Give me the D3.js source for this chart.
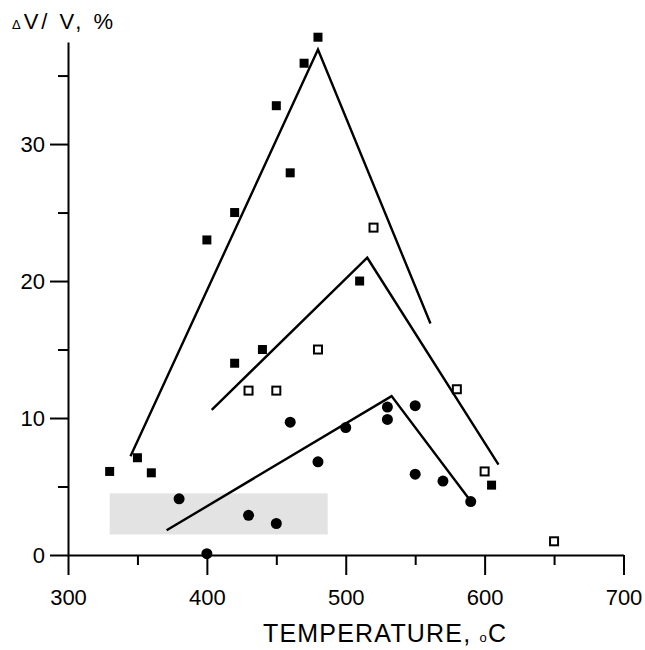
<!DOCTYPE html>
<html lang="en">
<head>
<meta charset="UTF-8" />
<title>Volume change vs temperature</title>
<style>
  body { margin: 0; background: #fff; }
  svg { display: block; font-family: "Liberation Sans", Arial, sans-serif; }
  .axis path, .axis line { stroke: #000; stroke-width: 2; }
  .axis text { font-size: 22px; fill: #000; }
</style>
</head>
<body>
<svg id="chart" width="645" height="650"></svg>
<script src="https://cdn.jsdelivr.net/npm/d3@7"></script>
<script>
// filled squares
const sqT = [330, 350, 360, 400, 420, 420, 440, 450, 460, 470, 480, 510, 605];
const sqV = [6.1, 7.1, 6.0, 23.0, 25.0, 14.0, 15.0, 32.8, 27.9, 35.9, 37.8, 20.0, 5.1];
// open squares
const osT = [430, 450, 480, 520, 580, 600, 650];
const osV = [12.0, 12.0, 15.0, 23.9, 12.1, 6.1, 1.0];
// filled circles
const ciT = [380, 400, 430, 450, 460, 480, 500, 530, 530, 550, 550, 570, 590];
const ciV = [4.1, 0.1, 2.9, 2.3, 9.7, 6.8, 9.3, 10.8, 9.9, 10.9, 5.9, 5.4, 3.9];
// trend lines (start, peak, end)
const upperT = [345, 480, 561], upperV = [7.2, 36.9, 16.9];
const middleT = [403.5, 515.5, 610], middleV = [10.6, 21.7, 6.6];
const lowerT = [371, 533, 591], lowerV = [1.8, 11.6, 3.8];
// shaded band
const bandT = [330, 487], bandV = [1.5, 4.5];

const xMajor = [300, 400, 500, 600, 700];
const xMinor = [350, 450, 550, 650];
const yMajor = [0, 10, 20, 30];
const yMinor = [5, 15, 25, 35];

const svg = d3.select("#chart");
const x = d3.scaleLinear().domain([300, 700]).range([68, 623.5]);
const y = d3.scaleLinear().domain([0, 37.45]).range([555, 42]);

// band
svg.append("rect")
  .attr("x", x(bandT[0])).attr("y", y(bandV[1]))
  .attr("width", x(bandT[1]) - x(bandT[0]))
  .attr("height", y(bandV[0]) - y(bandV[1]))
  .attr("fill", "#e3e3e3");

// axes
const gx = svg.append("g").attr("class", "axis").attr("transform", `translate(0,${y(0)})`);
gx.call(d3.axisBottom(x).tickValues(xMajor).tickSize(20).tickSizeOuter(0).tickPadding(14).tickFormat(d3.format("d")));
gx.append("g").call(d3.axisBottom(x).tickValues(xMinor).tickSize(10).tickSizeOuter(0).tickFormat(""))
  .select(".domain").remove();

const gy = svg.append("g").attr("class", "axis").attr("transform", `translate(${x(300)},0)`);
gy.call(d3.axisLeft(y).tickValues(yMajor).tickSize(18).tickSizeOuter(0).tickPadding(5).tickFormat(d3.format("d")));
gy.append("g").call(d3.axisLeft(y).tickValues(yMinor).tickSize(10).tickSizeOuter(0).tickFormat(""))
  .select(".domain").remove();
svg.selectAll(".axis .tick line").attr("stroke", "#000").attr("stroke-width", 2);

// trend lines
const line = d3.line().x(d => x(d[0])).y(d => y(d[1]));
[[upperT, upperV], [middleT, middleV], [lowerT, lowerV]].forEach(([ts, vs]) => {
  svg.append("path")
    .attr("d", line(ts.map((t, i) => [t, vs[i]])))
    .attr("fill", "none").attr("stroke", "#000").attr("stroke-width", 2.4)
    .attr("stroke-linejoin", "miter");
});

// markers
svg.selectAll("rect.sq").data(sqT).enter().append("rect")
  .attr("class", "sq")
  .attr("x", (d) => x(d) - 4.5).attr("y", (d, i) => y(sqV[i]) - 4.5)
  .attr("width", 9).attr("height", 9).attr("fill", "#000");

svg.selectAll("rect.os").data(osT).enter().append("rect")
  .attr("class", "os")
  .attr("x", (d) => x(d) - 4).attr("y", (d, i) => y(osV[i]) - 4)
  .attr("width", 8).attr("height", 8)
  .attr("fill", "#fff").attr("stroke", "#000").attr("stroke-width", 2);

svg.selectAll("circle.ci").data(ciT).enter().append("circle")
  .attr("class", "ci")
  .attr("cx", (d) => x(d)).attr("cy", (d, i) => y(ciV[i]))
  .attr("r", 5.5).attr("fill", "#000");

// axis titles
const yt = svg.append("text").attr("x", 12).attr("y", 29).attr("font-size", 22)
  .attr("letter-spacing", 3).attr("fill", "#000");
yt.append("tspan").attr("font-size", 13).text("Δ");
yt.append("tspan").text("V/ V,  %");

const xt = svg.append("text").attr("x", 263).attr("y", 642).attr("font-size", 25)
  .attr("letter-spacing", 1.2).attr("fill", "#000");
xt.append("tspan").text("TEMPERATURE,  ");
xt.append("tspan").attr("font-size", 13).text("o");
xt.append("tspan").text("C");
</script>
</body>
</html>
